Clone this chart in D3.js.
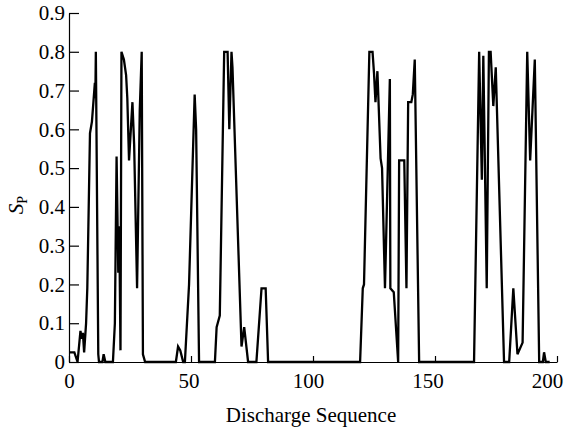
<!DOCTYPE html>
<html>
<head>
<meta charset="utf-8">
<script src="https://cdn.jsdelivr.net/npm/d3@7"></script>
<style>
  body { margin: 0; background: #fff; }
  svg { display: block; }
  .axis path, .axis line { stroke: #000; stroke-width: 1.2px; }
</style>
</head>
<body>
<svg id="chart"></svg>
<script>
// discharge sequence number of each vertex, and the S_P value there
var seq = [
    0, 2.2, 3.5, 4.7, 5.2, 5.7, 6.2, 7, 7.5, 8.6, 9.4, 10.6, 10.8, 11, 12, 12.3, 13.7, 14.2, 14.9, 18,
    18.8, 19.5, 20.2, 20.6, 21.1, 21.5, 22.5, 23.4, 23.9, 24.6, 26, 26.7, 27.9, 29, 29.8, 30.3, 31.2,
    43.8, 44.7, 45.6, 46.8, 47.5, 49.2, 51.5, 52.1, 53.3,
    59.8, 60.5, 61.8, 63.6, 65, 65.7, 66.6, 67, 70.7, 71.8, 73.4, 76.8, 78.9, 80.6, 81.6,
    119.3, 120.4, 120.9, 123.1, 124.4, 125, 125.6, 126.4, 127.7, 128.3, 129.5, 131.5, 131.7, 133.1, 134.9,
    135.3, 137.4, 138.3, 139, 140.3, 140.9, 141.7, 143.5,
    166, 168.1, 169.2, 169.8, 171.2, 172.1, 172.8, 173.9, 174.9, 178.3, 180.4, 182.1, 183.8, 185.9,
    187.8, 189, 190.9, 192.7, 194.2, 194.7, 195.4, 197
];
var sp = [
    0.025, 0.025, 0, 0.08, 0.06, 0.075, 0.025, 0.1, 0.19, 0.59, 0.62, 0.72, 0.68, 0.8, 0.02, 0, 0, 0.02, 0, 0,
    0.1, 0.53, 0.23, 0.35, 0.03, 0.8, 0.78, 0.74, 0.68, 0.52, 0.67, 0.56, 0.19, 0.65, 0.8, 0.02, 0,
    0, 0.04, 0.03, 0, 0, 0.2, 0.69, 0.6, 0,
    0, 0.09, 0.12, 0.8, 0.8, 0.6, 0.8, 0.76, 0.04, 0.09, 0, 0, 0.19, 0.19, 0,
    0, 0.19, 0.2, 0.8, 0.8, 0.745, 0.67, 0.75, 0.525, 0.5, 0.19, 0.73, 0.19, 0.18, 0,
    0.52, 0.52, 0.19, 0.67, 0.67, 0.69, 0.78, 0,
    0, 0.8, 0.47, 0.79, 0.19, 0.8, 0.8, 0.66, 0.76, 0, 0, 0.19, 0.02, 0.05,
    0.8, 0.52, 0.78, 0, 0, 0.025, 0, 0
];
var xTicks = [0, 50, 100, 150, 200];
var yTicks = [0, 0.1, 0.2, 0.3, 0.4, 0.5, 0.6, 0.7, 0.8, 0.9];

var width = 568, height = 427;
var margin = {top: 13, right: 11, bottom: 65, left: 69};
var serif = "Liberation Serif";

var svg = d3.select("#chart")
    .attr("width", width)
    .attr("height", height);

var x = d3.scaleLinear().domain([0, 200]).range([margin.left, width - margin.right]);
var y = d3.scaleLinear().domain([0, 0.9]).range([height - margin.bottom, margin.top]);

var points = seq.map(function(s, i) { return {s: s, v: sp[i]}; });

var line = d3.line()
    .x(function(d) { return x(d.s); })
    .y(function(d) { return y(d.v); });

svg.append("path")
    .datum(points)
    .attr("fill", "none")
    .attr("stroke", "#000")
    .attr("stroke-width", 2.3)
    .attr("d", line);

// x axis, ticks pointing up into the plot
var xg = svg.append("g")
    .attr("class", "axis")
    .attr("transform", "translate(0," + y(0) + ")")
    .call(d3.axisBottom(x).tickValues(xTicks).tickSizeInner(-6).tickSizeOuter(0).tickPadding(11)
        .tickFormat(d3.format("d")));
// labels in the original drift a little left of their ticks
xg.selectAll(".tick text").attr("dx", function(d) { return -d / 20; });

// y axis, ticks pointing right
svg.append("g")
    .attr("class", "axis")
    .attr("transform", "translate(" + x(0) + ",0)")
    .call(d3.axisLeft(y).tickValues(yTicks).tickSizeInner(-10).tickSizeOuter(0).tickPadding(4)
        .tickFormat(function(d) { return d === 0 ? "0" : d.toFixed(1); }));

svg.selectAll(".axis .domain").attr("fill", "none");
svg.selectAll(".axis text")
    .style("font-family", serif)
    .style("font-size", "21px")
    .style("fill", "#000");

svg.append("text")
    .attr("x", 311)
    .attr("y", 422)
    .attr("text-anchor", "middle")
    .style("font-family", serif)
    .style("font-size", "21px")
    .text("Discharge Sequence");

var yt = svg.append("text")
    .attr("transform", "translate(23,205) rotate(-90)")
    .attr("text-anchor", "middle")
    .style("font-family", serif)
    .style("font-size", "21px");
yt.append("tspan").attr("font-style", "italic").text("S");
yt.append("tspan").style("font-size", "14px").attr("dy", 4).text("P");
</script>
</body>
</html>
